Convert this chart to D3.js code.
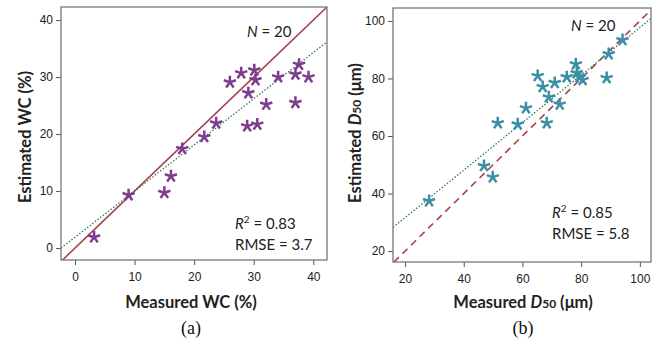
<!DOCTYPE html>
<html>
<head>
<meta charset="utf-8">
<script src="https://cdn.jsdelivr.net/npm/d3@7"></script>
<style>
  body { margin: 0; background: #fff; }
  svg { display: block; }
  .tick text { font-family: "Liberation Sans", Arial, sans-serif; font-size: 12px; fill: #222; }
  .tick line { stroke: #555; }
  .title { font-family: Lato, "Open Sans", sans-serif; font-weight: bold; font-size: 16.5px; fill: #222; }
  .note { font-family: Lato, "Open Sans", sans-serif; font-size: 15px; fill: #222; }
  .cap { font-family: "Liberation Serif", "Times New Roman", serif; font-size: 18px; fill: #111; }
</style>
</head>
<body>
<svg id="chart" width="657" height="343"></svg>
<script>
// panel (a) water content
var wcMeasured  = [18.0, 21.7, 23.7, 26.0, 27.9, 30.1, 30.3, 29.1, 28.9, 30.6, 32.1, 34.1, 37.0, 37.6, 39.2, 37.0, 16.1, 15.0, 9.0, 3.2];
var wcEstimated = [17.4, 19.5, 21.9, 29.1, 30.7, 31.2, 29.5, 27.2, 21.4, 21.7, 25.2, 30.0, 30.5, 32.2, 30.0, 25.5, 12.6, 9.7, 9.3, 1.9];
var wcFit = [1.9, 0.81];            // intercept, slope of dotted line
var wcTicks = [0, 10, 20, 30, 40];

// panel (b) D50
var d50Measured  = [94.1, 89.4, 88.7, 78.2, 78.5, 80.5, 79.5, 75.1, 71.0, 65.2, 66.9, 69.0, 72.7, 68.3, 61.2, 58.4, 51.6, 46.9, 49.9, 28.2];
var d50Estimated = [93.4, 88.5, 80.2, 85.0, 81.9, 79.5, 80.5, 80.5, 78.5, 80.9, 77.1, 73.5, 71.0, 64.5, 69.7, 64.1, 64.5, 49.6, 45.7, 37.4];
var d50Fit = [15.1, 0.826];
var d50Ticks = [20, 40, 60, 80, 100];

var svg = d3.select("#chart");

function asterisk(r) {
  var p = "";
  for (var k = 0; k < 5; k++) {
    var a = -Math.PI / 2 + k * 2 * Math.PI / 5;
    p += "M0,0L" + (r * Math.cos(a)).toFixed(2) + "," + (r * Math.sin(a)).toFixed(2);
  }
  return p;
}

function panel(o) {
  var x = d3.scaleLinear().domain(o.xDom).range([o.left, o.right]);
  var y = d3.scaleLinear().domain(o.yDom).range([o.bottom, o.top]);
  var g = svg.append("g");

  g.append("g")
    .attr("transform", "translate(0," + o.bottom + ")")
    .call(d3.axisBottom(x).tickValues(o.ticks).tickSize(5).tickSizeOuter(0))
    .call(s => s.select(".domain").remove())
    .selectAll("text").attr("dy", "1.1em");
  g.append("g")
    .attr("transform", "translate(" + o.left + ",0)")
    .call(d3.axisLeft(y).tickValues(o.ticks).tickSize(5).tickSizeOuter(0))
    .call(s => s.select(".domain").remove());

  var clipId = "clip" + o.id;
  g.append("clipPath").attr("id", clipId)
    .append("rect").attr("x", o.left).attr("y", o.top)
    .attr("width", o.right - o.left).attr("height", o.bottom - o.top);

  var inner = g.append("g").attr("clip-path", "url(#" + clipId + ")");
  var lo = Math.max(o.xDom[0], o.yDom[0]), hi = Math.min(o.xDom[1], o.yDom[1]) + 2;
  inner.append("line")
    .attr("x1", x(lo)).attr("y1", y(lo)).attr("x2", x(hi)).attr("y2", y(hi))
    .attr("stroke", "#a8404e").attr("stroke-width", 1.6)
    .attr("stroke-dasharray", o.dashed ? "7,5" : null);
  var x0 = o.xDom[0], x1 = o.xDom[1];
  inner.append("line")
    .attr("x1", x(x0)).attr("y1", y(o.fit[0] + o.fit[1] * x0))
    .attr("x2", x(x1)).attr("y2", y(o.fit[0] + o.fit[1] * x1))
    .attr("stroke", "#2f7a5c").attr("stroke-width", 1.3)
    .attr("stroke-dasharray", "1.5,1.8");

  g.selectAll(".pt").data(o.mx).enter().append("path")
    .attr("transform", (d, i) => "translate(" + x(d) + "," + y(o.my[i]) + ")")
    .attr("d", asterisk(6.4))
    .attr("stroke", o.color).attr("stroke-width", 2.5).attr("fill", "none");

  g.append("rect")
    .attr("x", o.left).attr("y", o.top)
    .attr("width", o.right - o.left).attr("height", o.bottom - o.top)
    .attr("fill", "none").attr("stroke", "#777").attr("stroke-width", 1.3);

  var nt = g.append("text").attr("class", "note").attr("x", o.nx).attr("y", o.ny);
  nt.append("tspan").attr("font-style", "italic").text("N");
  nt.append("tspan").text(" = 20");

  var rt = g.append("text").attr("class", "note").attr("x", o.rx).attr("y", o.ry);
  rt.append("tspan").attr("font-style", "italic").text("R");
  rt.append("tspan").attr("font-size", "10px").attr("dy", "-6").text("2");
  rt.append("tspan").attr("dy", "6").text(" = " + o.r2);
  g.append("text").attr("class", "note").attr("x", o.rx).attr("y", o.ry + 21).text("RMSE = " + o.rmse);

  var xt = g.append("text").attr("class", "title").attr("text-anchor", "middle")
    .attr("x", o.xtx).attr("y", 308);
  o.xTitle(xt);
  var yt = g.append("text").attr("class", "title").attr("text-anchor", "middle")
    .attr("transform", "translate(" + o.ytx + "," + o.ytc + ") rotate(-90)");
  o.yTitle(yt);

  g.append("text").attr("class", "cap").attr("text-anchor", "middle")
    .attr("x", o.xtx).attr("y", 334).text(o.cap);
}

panel({
  id: "a", left: 61, right: 327, top: 7, bottom: 260,
  xDom: [-2.35, 42.3], yDom: [-2.1, 42.3], ticks: wcTicks,
  mx: wcMeasured, my: wcEstimated, fit: wcFit, color: "#7e3c8e", dashed: false,
  nx: 247, ny: 37, rx: 235, ry: 229, r2: "0.83", rmse: "3.7",
  xtx: 191, ytx: 31, ytc: 137, cap: "(a)",
  xTitle: t => t.text("Measured WC (%)"),
  yTitle: t => t.text("Estimated WC (%)")
});

panel({
  id: "b", left: 393, right: 651, top: 8, bottom: 262,
  xDom: [15.9, 103.8], yDom: [16.2, 104.5], ticks: d50Ticks,
  mx: d50Measured, my: d50Estimated, fit: d50Fit, color: "#3a8fa6", dashed: true,
  nx: 571, ny: 31, rx: 552, ry: 218, r2: "0.85", rmse: "5.8",
  xtx: 523, ytx: 361, ytc: 133, cap: "(b)",
  xTitle: t => {
    t.append("tspan").text("Measured ");
    t.append("tspan").attr("font-style", "italic").text("D");
    t.append("tspan").attr("font-size", "12px").text("50");
    t.append("tspan").text(" (\u03BCm)");
  },
  yTitle: t => {
    t.append("tspan").text("Estimated ");
    t.append("tspan").attr("font-style", "italic").text("D");
    t.append("tspan").attr("font-size", "12px").text("50");
    t.append("tspan").text(" (\u03BCm)");
  }
});
</script>
</body>
</html>
